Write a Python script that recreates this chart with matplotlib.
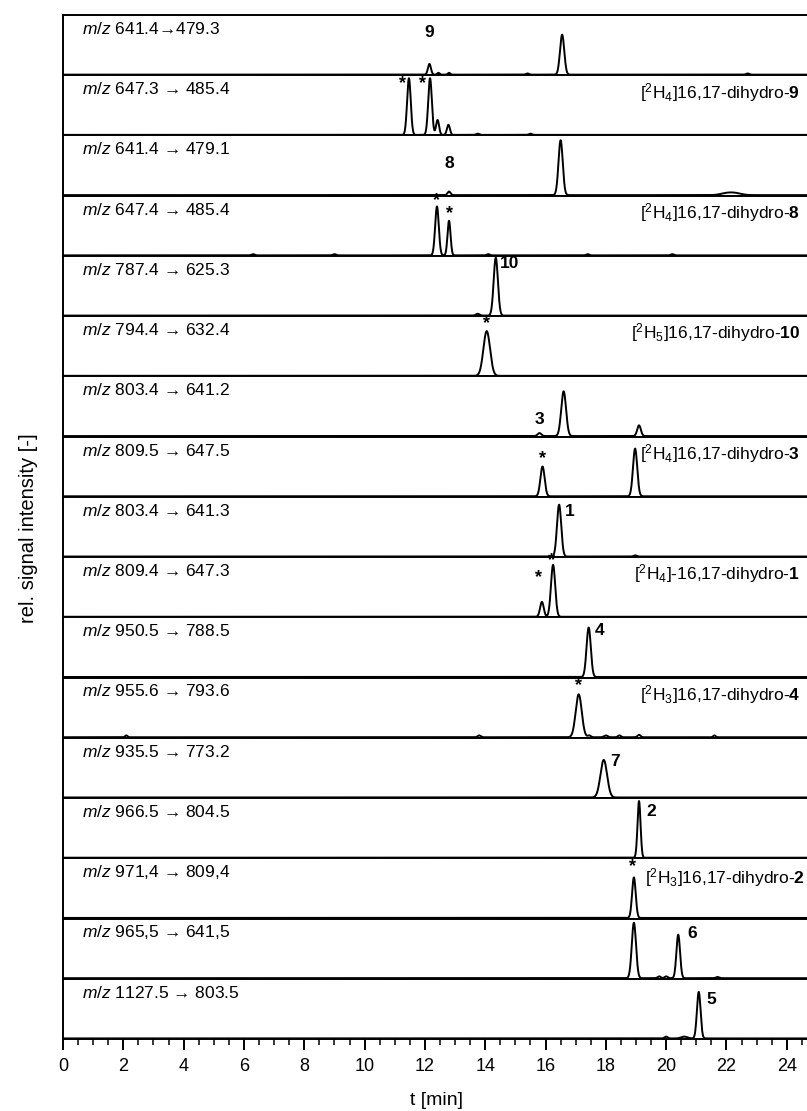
import numpy as np
import matplotlib
matplotlib.use("Agg")
import matplotlib.pyplot as plt

plt.rcParams["font.family"] = ["Liberation Sans", "DejaVu Sans"]
plt.rcParams["mathtext.fontset"] = "custom"
plt.rcParams["mathtext.rm"] = "Liberation Sans"
plt.rcParams["mathtext.it"] = "Liberation Sans:italic"
plt.rcParams["mathtext.bf"] = "Liberation Sans:bold"

# MRM transitions, one per trace (top to bottom)
transitions = [
    "641.4\u2192479.3", "647.3 \u2192 485.4", "641.4 \u2192 479.1", "647.4 \u2192 485.4",
    "787.4 \u2192 625.3", "794.4 \u2192 632.4", "803.4 \u2192 641.2", "809.5 \u2192 647.5",
    "803.4 \u2192 641.3", "809.4 \u2192 647.3", "950.5 \u2192 788.5", "955.6 \u2192 793.6",
    "935.5 \u2192 773.2", "966.5 \u2192 804.5", "971,4 \u2192 809,4", "965,5 \u2192 641,5",
    "1127.5 \u2192 803.5",
]

# Peak retention times [min], relative heights and widths (sigma, min) per trace
peak_rt = [
    [12.15, 12.45, 12.8, 15.4, 16.55, 22.7],
    [11.47, 12.17, 12.42, 12.78, 13.75, 15.5],
    [12.8, 16.5, 22.0, 22.3],
    [12.4, 12.8, 6.3, 9.0, 14.1, 17.4, 20.2],
    [13.75, 14.35],
    [14.05],
    [15.8, 16.6, 19.1],
    [15.9, 18.97],
    [16.45, 18.97],
    [15.88, 16.25],
    [17.43],
    [2.1, 13.8, 17.1, 17.45, 18.0, 18.45, 19.1, 21.6],
    [17.93],
    [19.1],
    [18.93],
    [18.93, 19.77, 20.0, 20.4, 21.7],
    [20.0, 20.6, 21.08],
]
peak_height = [
    [0.18, 0.03, 0.03, 0.02, 0.67, 0.02],
    [0.95, 0.95, 0.25, 0.17, 0.02, 0.02],
    [0.06, 0.92, 0.03, 0.03],
    [0.82, 0.58, 0.02, 0.02, 0.02, 0.02, 0.02],
    [0.03, 0.97],
    [0.75],
    [0.05, 0.75, 0.18],
    [0.50, 0.80],
    [0.87, 0.02],
    [0.25, 0.87],
    [0.83],
    [0.03, 0.03, 0.72, 0.03, 0.03, 0.03, 0.04, 0.03],
    [0.63],
    [0.95],
    [0.68],
    [0.93, 0.03, 0.03, 0.73, 0.02],
    [0.03, 0.03, 0.78],
]
peak_width = [
    [0.05, 0.04, 0.04, 0.05, 0.07, 0.05],
    [0.06, 0.06, 0.05, 0.05, 0.05, 0.05],
    [0.05, 0.07, 0.2, 0.2],
    [0.06, 0.05, 0.05, 0.05, 0.05, 0.05, 0.05],
    [0.06, 0.07],
    [0.11],
    [0.06, 0.08, 0.06],
    [0.07, 0.07],
    [0.07, 0.05],
    [0.06, 0.07],
    [0.07],
    [0.04, 0.05, 0.1, 0.05, 0.06, 0.05, 0.05, 0.04],
    [0.11],
    [0.05],
    [0.06],
    [0.07, 0.05, 0.05, 0.06, 0.05],
    [0.05, 0.1, 0.06],
]

# Compound numbers labelled next to peaks: (panel, t, rel. y, text)
number_panel = [0, 2, 4, 6, 8, 10, 12, 13, 15, 16]
number_t = [12.15, 12.8, 14.8, 15.8, 16.8, 17.8, 18.3, 19.5, 20.85, 21.5]
number_y = [0.70, 0.53, 0.88, 0.27, 0.75, 0.78, 0.60, 0.78, 0.75, 0.66]
number_text = ["9", "8", "10", "3", "1", "4", "7", "2", "6", "5"]

# Internal standard peaks marked with asterisks
star_panel = [1, 1, 3, 3, 5, 7, 9, 9, 11, 14]
star_t = [11.27, 11.93, 12.4, 12.8, 14.05, 15.9, 16.2, 15.78, 17.1, 18.88]
star_y = [0.86, 0.86, 0.92, 0.70, 0.87, 0.63, 0.94, 0.66, 0.87, 0.86]

# Names of the deuterated standards: (panel, text)
std_panel = [1, 3, 5, 7, 9, 11, 14]
std_text = [
    r"[$^{2}$H$_{4}$]16,17-dihydro-$\mathbf{9}$",
    r"[$^{2}$H$_{4}$]16,17-dihydro-$\mathbf{8}$",
    r"[$^{2}$H$_{5}$]16,17-dihydro-$\mathbf{10}$",
    r"[$^{2}$H$_{4}$]16,17-dihydro-$\mathbf{3}$",
    r"[$^{2}$H$_{4}$]-16,17-dihydro-$\mathbf{1}$",
    r"[$^{2}$H$_{3}$]16,17-dihydro-$\mathbf{4}$",
    r"[$^{2}$H$_{3}$]16,17-dihydro-$\mathbf{2}$",
]

t = np.linspace(0.0, 24.8, 5000)
n = len(transitions)

fig = plt.figure(figsize=(8.07, 11.11), dpi=100)
gs = fig.add_gridspec(n, 1, left=63 / 807, right=1.003, bottom=1 - 1039 / 1111,
                      top=1 - 15 / 1111, hspace=0)
axes = [fig.add_subplot(gs[i]) for i in range(n)]

for i, ax in enumerate(axes):
    y = np.zeros_like(t)
    for rt, h, w in zip(peak_rt[i], peak_height[i], peak_width[i]):
        y += h * np.exp(-0.5 * ((t - rt) / w) ** 2)
    ax.plot(t, y, color="black", lw=1.4)
    ax.set_xlim(0, 24.75)
    ax.set_ylim(-0.01, 1.0)
    ax.set_yticks([])
    for side in ["top", "bottom", "left", "right"]:
        ax.spines[side].set_linewidth(1.4)
    ax.spines["right"].set_visible(False)
    ax.text(0.025, 0.77, r"$\mathit{m/z}$ " + transitions[i], transform=ax.transAxes,
            ha="left", va="center", fontsize=12.5)
    if i < n - 1:
        ax.tick_params(axis="x", bottom=False, labelbottom=False)
    else:
        ax.set_xticks(np.arange(0, 25, 2))
        ax.set_xticks(np.arange(0, 24.8, 0.5), minor=True)
        ax.tick_params(axis="x", which="major", direction="out", length=8, width=1.4,
                       labelsize=13, pad=6)
        ax.tick_params(axis="x", which="minor", direction="out", length=4.5, width=1.1)
        ax.set_xlabel("t [min]", fontsize=14, labelpad=12)

for p, x, yv, s in zip(number_panel, number_t, number_y, number_text):
    axes[p].text(x, yv, s, ha="center", va="center", fontsize=12.5, fontweight="bold")

for p, x, yv in zip(star_panel, star_t, star_y):
    axes[p].text(x, yv, "*", ha="center", va="center", fontsize=13, fontweight="bold")

for p, s in zip(std_panel, std_text):
    if p == 14:
        axes[p].text(19.3, 0.68, s, ha="left", va="center", fontsize=12.5)
    else:
        axes[p].text(0.988, 0.72, s, transform=axes[p].transAxes, ha="right",
                     va="center", fontsize=12.5)

fig.text(0.035, 0.525, "rel. signal intensity [-]", rotation=90, ha="center",
         va="center", fontsize=14.5)

fig.savefig("out.png", dpi=100)
